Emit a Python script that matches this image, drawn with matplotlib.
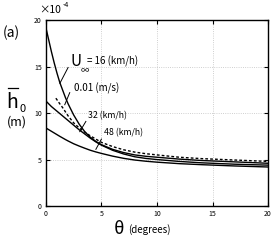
import matplotlib
matplotlib.use("Agg")
import matplotlib.pyplot as plt
import numpy as np

plt.rcParams['font.family'] = ['Noto Sans CJK JP', 'DejaVu Sans']

# angle (degrees)
theta = [0, 0.25, 0.5, 0.75, 1, 1.25, 1.5, 1.75, 2, 2.5, 3, 3.5, 4, 4.5,
         5, 6, 7, 8, 9, 10, 12, 14, 17, 20]
# mean roughness height, x1e-4 m
h_16 = [19.2, 17.9, 16.6, 15.4, 14.3, 13.3, 12.5, 11.7, 11.0, 9.8, 8.8, 8.0,
        7.4, 6.95, 6.6, 6.1, 5.75, 5.5, 5.35, 5.25, 5.05, 4.9, 4.75, 4.6]
h_32 = [11.3, 11.0, 10.7, 10.45, 10.2, 9.95, 9.7, 9.45, 9.2, 8.7, 8.2, 7.75,
        7.3, 6.9, 6.55, 6.0, 5.6, 5.3, 5.12, 5.0, 4.8, 4.65, 4.5, 4.4]
h_48 = [8.4, 8.22, 8.04, 7.86, 7.68, 7.5, 7.33, 7.16, 7.0, 6.7, 6.45, 6.22,
        6.0, 5.82, 5.66, 5.37, 5.13, 4.95, 4.82, 4.72, 4.56, 4.45, 4.31, 4.2]
theta_ms = [0.9, 1.25, 1.5, 1.75, 2, 2.5, 3, 3.5, 4, 4.5, 5, 6, 7, 8, 9, 10,
            12, 14, 17, 20]
h_ms = [11.6, 11.0, 10.6, 10.15, 9.7, 8.95, 8.4, 7.95, 7.55, 7.2, 6.85, 6.4,
        6.05, 5.8, 5.63, 5.5, 5.25, 5.1, 4.95, 4.8]

xticks = [0, 5, 10, 15, 20]
yticks = [0, 5, 10, 15, 20]

fig = plt.figure(figsize=(2.73, 2.45), dpi=100)
ax = fig.add_axes([0.168, 0.159, 0.814, 0.759])

ax.plot(theta, h_16, color='black', lw=1.0)
ax.plot(theta, h_32, color='black', lw=1.0)
ax.plot(theta, h_48, color='black', lw=1.0)
ax.plot(theta_ms, h_ms, color='black', lw=1.0, ls=(0, (2, 1.5)))

ax.set_xlim(0, 20)
ax.set_ylim(0, 20)
ax.set_xticks(xticks)
ax.set_yticks(yticks)
ax.tick_params(direction='in', length=3, width=0.8, labelsize=5,
               top=True, right=True, pad=3)
ax.grid(True, ls=':', lw=0.6, color='#c0c0c0')
for s in ax.spines.values():
    s.set_linewidth(1.0)

# curve labels
ax.text(2.2, 15.5, 'U', fontsize=11, ha='left', va='center')
ax.text(3.1, 14.5, '∞', fontsize=6, ha='left', va='center')
ax.text(3.7, 15.6, '= 16 (km/h)', fontsize=7, ha='left', va='center')
ax.plot([2.0, 1.26], [14.9, 13.2], color='black', lw=0.7)

ax.text(2.5, 12.7, '0.01 (m/s)', fontsize=7, ha='left', va='center')
ax.plot([2.15, 1.7], [12.2, 10.9], color='black', lw=0.7)

ax.text(3.8, 9.7, '32 (km/h)', fontsize=6.3, ha='left', va='center')
ax.plot([3.6, 3.05], [9.1, 8.0], color='black', lw=0.7)

ax.text(5.2, 7.85, '48 (km/h)', fontsize=6.3, ha='left', va='center')
ax.plot([5.0, 4.5], [7.2, 6.1], color='black', lw=0.7)

# outer annotations
fig.text(0.145, 0.96, '×10', fontsize=7.5, ha='left', va='center')
fig.text(0.228, 0.978, '-4', fontsize=5, ha='left', va='center')
fig.text(0.01, 0.865, '(a)', fontsize=10, ha='left', va='center')
fig.text(0.045, 0.58, 'h', fontsize=14, ha='center', va='center')
fig.text(0.083, 0.555, '0', fontsize=8, ha='center', va='center')
fig.lines.append(plt.Line2D([0.028, 0.065], [0.64, 0.64], color='black', lw=0.9,
                            transform=fig.transFigure))
fig.text(0.06, 0.5, '(m)', fontsize=9, ha='center', va='center')
fig.text(0.415, 0.065, 'θ', fontsize=13, ha='left', va='center')
fig.text(0.47, 0.065, '(degrees)', fontsize=7, ha='left', va='center')

fig.savefig('out.png', dpi=100)
